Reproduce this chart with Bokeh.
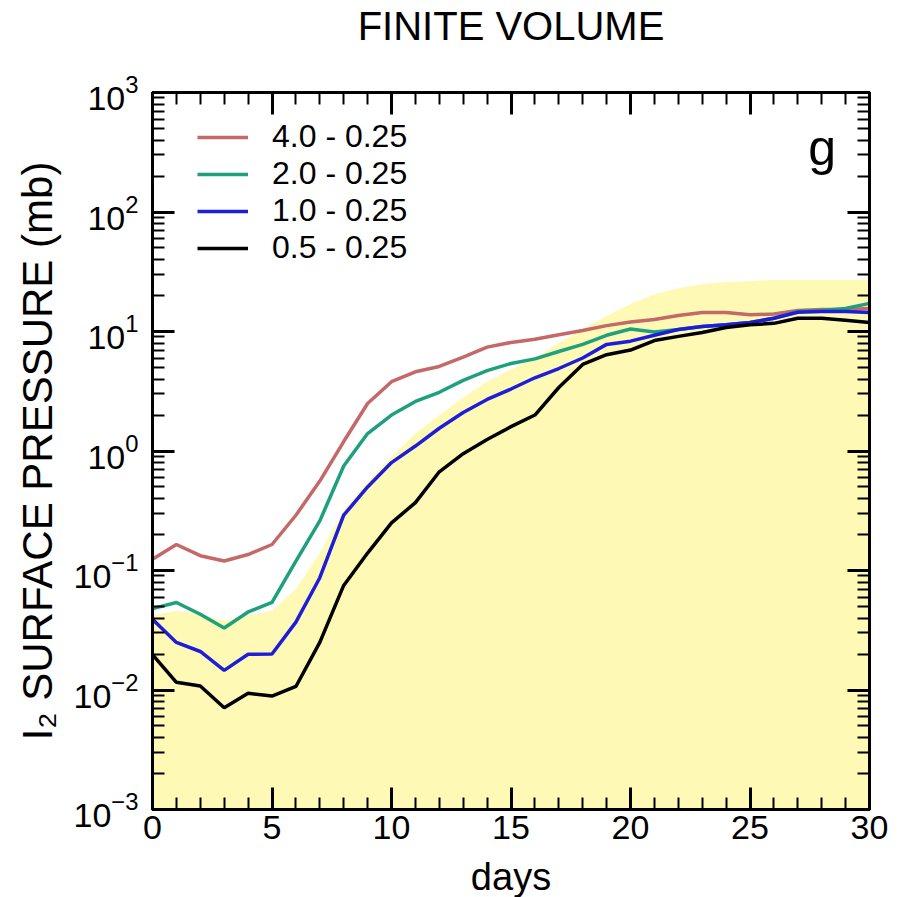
from bokeh.plotting import figure
from bokeh.models import (LinearAxis, LogAxis, FixedTicker, Legend, LegendItem,
                          Label, CustomJSTickFormatter)
from bokeh.embed import file_html
from bokeh.resources import INLINE

days = list(range(31))
s_40 = [0.124, 0.165, 0.133, 0.12, 0.136, 0.165, 0.29, 0.56, 1.2, 2.5, 3.8,
        4.6, 5.1, 6.1, 7.4, 8.1, 8.6, 9.4, 10.2, 11.2, 12.0, 12.6, 13.6, 14.4,
        14.4, 13.8, 14.0, 15.0, 15.3, 15.3, 15.6]
s_20 = [0.048, 0.054, 0.043, 0.033, 0.045, 0.054, 0.12, 0.26, 0.75, 1.4, 2.0,
        2.6, 3.1, 3.9, 4.7, 5.4, 5.9, 6.8, 7.8, 9.3, 10.5, 9.9, 10.4, 11.0,
        11.4, 11.9, 12.9, 14.7, 15.0, 15.6, 17.2]
s_10 = [0.039, 0.025, 0.021, 0.0146, 0.0199, 0.020, 0.037, 0.087, 0.29, 0.5,
        0.8, 1.1, 1.55, 2.1, 2.7, 3.3, 4.1, 4.9, 6.0, 7.8, 8.3, 9.3, 10.4,
        11.0, 11.4, 11.9, 12.9, 14.5, 14.7, 14.7, 14.4]
s_05 = [0.0198, 0.0116, 0.0108, 0.0071, 0.0094, 0.0089, 0.0107, 0.025, 0.075,
        0.14, 0.25, 0.37, 0.67, 0.95, 1.25, 1.6, 2.0, 3.4, 5.3, 6.4, 7.0, 8.4,
        9.1, 9.8, 10.8, 11.4, 11.7, 12.9, 12.9, 12.4, 11.9]
envelope = [0.042, 0.046, 0.043, 0.038, 0.042, 0.046, 0.07, 0.14, 0.32, 0.55,
            0.9, 1.4, 2.0, 2.8, 3.8, 4.8, 6.0, 8.0, 10.5, 13.5, 17.0, 20.5,
            23.0, 25.0, 26.0, 26.5, 27.0, 27.0, 27.0, 27.0, 27.0]
floor = [1e-3] * len(days)

labels = ["4.0 - 0.25", "2.0 - 0.25", "1.0 - 0.25", "0.5 - 0.25"]
colors = ["#C46868", "#1FA07C", "#1E1ED8", "#000000"]
title_text = "FINITE VOLUME"

x_major = [0, 5, 10, 15, 20, 25, 30]
x_minor = list(range(0, 31))
y_major = [1e-3, 1e-2, 1e-1, 1e0, 1e1, 1e2, 1e3]
y_minor = [m * 10.0 ** e for e in range(-3, 3) for m in range(1, 10)]

FONT = "Liberation Sans"
FW = 717

p = figure(width=907, height=897, frame_width=FW, frame_height=FW,
           x_range=(0, 30), y_range=(1e-3, 1e3), y_axis_type="log",
           output_backend="svg", toolbar_location=None,
           min_border_left=152, min_border_right=38,
           min_border_top=90, min_border_bottom=90)
p.background_fill_color = "white"
p.border_fill_color = "white"
p.outline_line_color = "black"
p.outline_line_width = 3
p.xgrid.visible = False
p.ygrid.visible = False

# title: an empty second line lifts the text toward the top of the page
p.title.text = title_text + "\n "
p.title.align = "center"
p.title.text_font = FONT
p.title.text_font_size = "40px"
p.title.text_font_style = "normal"
p.title.text_color = "black"
p.title.text_line_height = 1.0
p.title.standoff = 2

p.varea(x=days, y1=floor, y2=envelope, fill_color="#FFF9B6")

rs = []
for ys, c in zip([s_40, s_20, s_10, s_05], colors):
    rs.append(p.line(days, ys, line_color=c, line_width=3.5))

xt = FixedTicker(ticks=x_major, minor_ticks=x_minor)
yt = FixedTicker(ticks=y_major, minor_ticks=y_minor)
blank = CustomJSTickFormatter(code="return ''")

x_bottom = p.below[0]
y_left = p.left[0]
x_top = LinearAxis(formatter=blank)
y_right = LogAxis(formatter=blank)
p.add_layout(x_top, "above")
p.add_layout(y_right, "right")

for ax in [x_bottom, y_left, x_top, y_right]:
    ax.axis_line_width = 3
    ax.major_tick_in = 22
    ax.major_tick_out = 0
    ax.minor_tick_in = 12
    ax.minor_tick_out = 0
    ax.major_tick_line_width = 3
    ax.minor_tick_line_width = 2
    ax.major_label_text_font = FONT
    ax.major_label_text_font_size = "34px"
    ax.major_label_text_color = "black"
    ax.axis_label_text_font = FONT
    ax.axis_label_text_color = "black"
    ax.axis_label_text_font_style = "normal"
for ax in [x_bottom, x_top]:
    ax.ticker = xt
for ax in [y_left, y_right]:
    ax.ticker = yt

x_top.major_label_standoff = 0
y_right.major_label_standoff = 0

x_bottom.axis_label = "days"
x_bottom.axis_label_text_font_size = "38px"
x_bottom.major_label_standoff = 6
x_bottom.axis_label_standoff = 14
y_left.axis_label = "I\u2082 SURFACE PRESSURE (mb)"
y_left.axis_label_text_font_size = "42px"
y_left.major_label_standoff = 14
y_left.axis_label_standoff = 10

legend = Legend(items=[LegendItem(label=l, renderers=[r]) for l, r in zip(labels, rs)],
                location=(45, 543), padding=0, spacing=-3,
                glyph_width=51, glyph_height=30, label_height=30,
                label_standoff=24, label_text_font=FONT,
                label_text_font_size="32px", label_text_color="black",
                border_line_alpha=0, background_fill_alpha=0)
p.add_layout(legend)

p.add_layout(Label(x=28.6, y=340, text="g", text_align="right",
                   text_baseline="middle", text_font=FONT,
                   text_color="black", text_font_size="50px"))

open("out.html", "w").write(file_html(p, INLINE))
